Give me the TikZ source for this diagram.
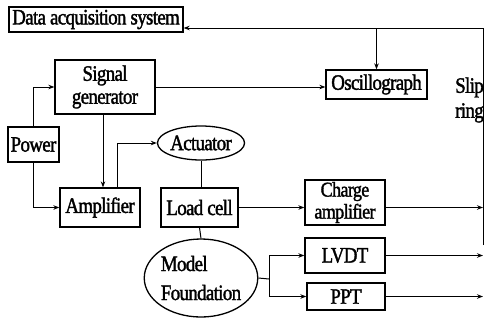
\documentclass[tikz,border=0pt]{standalone}
\usepackage{fontspec}
\setmainfont{Liberation Serif}[FakeStretch=0.86,FakeBold=1.6,LetterSpace=-3]
\usetikzlibrary{arrows.meta,shapes.geometric}
\begin{document}
\begin{tikzpicture}[x=1pt,y=-1pt,
  box/.style={draw,line width=1.3pt,inner sep=0pt,align=center,font=\fontsize{22}{23}\selectfont},
  oval/.style={draw,ellipse,line width=1.3pt,inner sep=0pt,align=left,font=\fontsize{22}{23}\selectfont},
  conn/.style={line width=1pt},
  arr/.style={conn,-{Stealth[length=6pt,width=4.5pt]}}]
\useasboundingbox (0,0) rectangle (484,325);
\clip (0,0) rectangle (484,325);
\node[box,minimum width=174pt,minimum height=25pt] (das) at (96,19.5) {Data acquisition system};
\node[box,minimum width=100pt,minimum height=54pt] (sig) at (105,87) {Signal\\generator};
\node[box,minimum width=101pt,minimum height=29pt] (osc) at (376.5,84.5) {Oscillograph};
\node[box,minimum width=51pt,minimum height=35pt] (pow) at (33.5,144.5) {Power};
\node[box,minimum width=80pt,minimum height=39pt] (amp) at (100,207.5) {Amplifier};
\node[oval,minimum width=78pt,minimum height=34pt] (act) at (201,143) {Actuator};
\node[box,minimum width=77pt,minimum height=39pt] (lc) at (199.5,207.5) {Load cell};
\node[box,minimum width=80pt,minimum height=45pt,font=\fontsize{21}{22}\selectfont] (ch) at (345,202.5) {Charge\\amplifier};
\node[oval,minimum width=106pt,minimum height=78pt,font=\fontsize{22}{29}\selectfont] (mf) at (201,278) {Model\\Foundation};
\node[box,minimum width=80pt,minimum height=35pt] (lvdt) at (345,255.5) {LVDT};
\node[box,minimum width=78pt,minimum height=27pt] (ppt) at (346,296.5) {PPT};
\node[anchor=west,inner sep=0pt,align=left,font=\fontsize{22}{25}\selectfont] (slip) at (455,100) {Slip\\ring};
\coordinate (top) at (483,28);
\coordinate (bot) at (483,245);
\coordinate (split) at (269,279);
\draw[conn] (bot) -- (top);
\draw[arr] (top) -- (top -| das.east);
\draw[arr] (376.5,28) -- (osc.north);
\draw[arr] (pow.north) |- (sig.west);
\draw[arr] (pow.south) |- (amp.west);
\draw[arr] (sig.east) -- (sig.east -| osc.west);
\draw[arr] ([xshift=-2pt]sig.south) -- ([xshift=-2pt]sig.south |- amp.north);
\draw[arr] ([xshift=17pt]amp.north) |- (act.west);
\draw[conn] (act.south) -- (act.south |- lc.north);
\draw[arr] (lc.east) -- (lc.east -| ch.west);
\draw[arr] (lc.east -| ch.east) -- (lc.east -| top);
\draw[conn] (lc.south) -- (mf.north);
\draw[conn] (mf.east) -- (split);
\draw[arr] (split) |- (lvdt.west);
\draw[arr] (split) |- (ppt.west);
\draw[arr] (lvdt.east) -- (lvdt.east -| top);
\draw[arr] (ppt.east) -- (ppt.east -| top);
\end{tikzpicture}
\end{document}
